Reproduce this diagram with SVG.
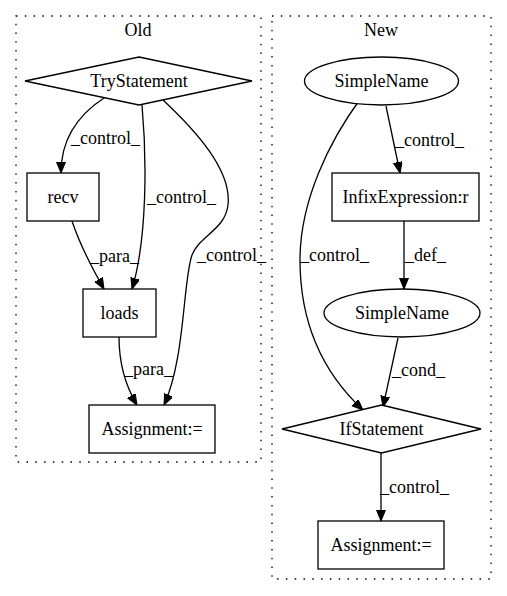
<svg xmlns="http://www.w3.org/2000/svg" width="507" height="596" viewBox="0 0 507 596">
<defs>
<marker id="ah" markerUnits="userSpaceOnUse" markerWidth="12" markerHeight="10" refX="11" refY="4.5" orient="auto">
<path d="M0,0 L11,4.5 L0,9 z" fill="#000" stroke="#000" stroke-width="1"/>
</marker>
<style>
text{font-family:"Liberation Serif","Times New Roman",serif;font-size:18px;fill:#000}
.c{text-anchor:middle}
.cl{fill:none;stroke:#000;stroke-width:1.3;stroke-dasharray:1.5,7.3}
.n{fill:#fff;stroke:#000;stroke-width:1.3}
.e{fill:none;stroke:#000;stroke-width:1.3;marker-end:url(#ah)}
</style>
</defs>
<rect width="507" height="596" fill="#fff"/>
<g id="cluster_old">
<rect class="cl" x="16" y="16" width="245" height="446"/>
<text class="c" x="138" y="36">Old</text>
</g>
<g id="cluster_new">
<rect class="cl" x="272" y="16" width="219" height="563"/>
<text class="c" x="381" y="36">New</text>
</g>
<g id="edges">
<path class="e" d="M104,98 C78,115 61,140 61,173"/>
<path class="e" d="M142,105 C147,160 147,240 132,289"/>
<path class="e" d="M163,100 C195,130 232,170 228,205 C225,230 200,235 192,255 C183,280 185,360 164,405"/>
<path class="e" d="M72,221 C80,245 92,268 104,289"/>
<path class="e" d="M119,337 C119,360 125,385 137,405"/>
<path class="e" d="M386,106 L400,173"/>
<path class="e" d="M361,98 C330,140 300,200 300,260 C300,320 320,370 363,410"/>
<path class="e" d="M404,221 L404,289"/>
<path class="e" d="M398,338 L383,407"/>
<path class="e" d="M381,453 L381,521"/>
<text x="71" y="144">_control_</text>
<text x="147" y="203">_control_</text>
<text x="197" y="261">_control_</text>
<text x="90" y="262">_para_</text>
<text x="124" y="375">_para_</text>
<text x="395" y="146">_control_</text>
<text x="300" y="261">_control_</text>
<text x="405" y="261">_def_</text>
<text x="392" y="376">_cond_</text>
<text x="380" y="493">_control_</text>
</g>
<g id="TryStatement">
<polygon class="n" points="139,57 252,81 139,105 25,81"/>
<text class="c" x="139" y="87">TryStatement</text>
</g>
<g id="recv">
<rect class="n" x="27" y="173" width="72" height="48"/>
<text class="c" x="63" y="203">recv</text>
</g>
<g id="loads">
<rect class="n" x="83" y="289" width="73" height="48"/>
<text class="c" x="119.5" y="319">loads</text>
</g>
<g id="Assignment_old">
<rect class="n" x="89" y="405" width="126" height="48"/>
<text class="c" x="152" y="435">Assignment:=</text>
</g>
<g id="SimpleName1">
<ellipse class="n" cx="381.5" cy="81" rx="77" ry="24"/>
<text class="c" x="381.5" y="87">SimpleName</text>
</g>
<g id="InfixExpression">
<rect class="n" x="332" y="173" width="147" height="48"/>
<text class="c" x="405.5" y="203">InfixExpression:r</text>
</g>
<g id="SimpleName2">
<ellipse class="n" cx="402" cy="313" rx="78" ry="24"/>
<text class="c" x="402" y="319">SimpleName</text>
</g>
<g id="IfStatement">
<polygon class="n" points="381.5,405 481,429 381.5,453 282,429"/>
<text class="c" x="381.5" y="435">IfStatement</text>
</g>
<g id="Assignment_new">
<rect class="n" x="318" y="521" width="126" height="48"/>
<text class="c" x="381" y="551">Assignment:=</text>
</g>
</svg>
